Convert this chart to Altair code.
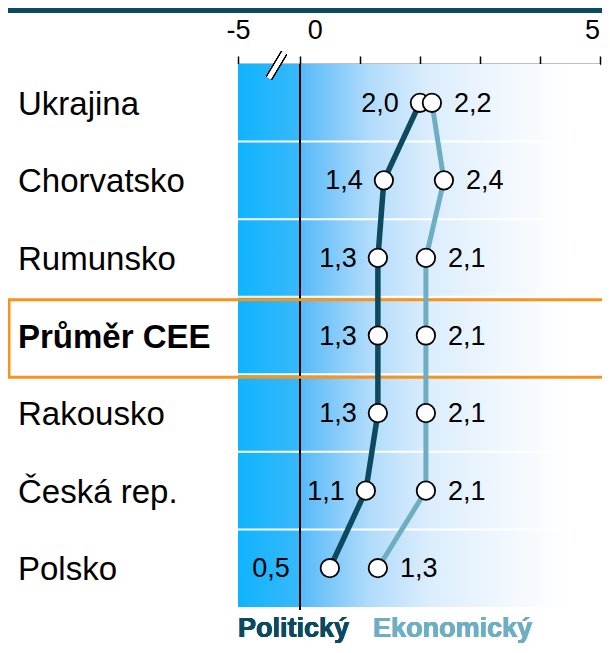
import altair as alt
import pandas as pd

countries = ["Ukrajina", "Chorvatsko", "Rumunsko", "Průměr CEE", "Rakousko", "Česká rep.", "Polsko"]
political = [2.0, 1.4, 1.3, 1.3, 1.3, 1.1, 0.5]
economic = [2.2, 2.4, 2.1, 2.1, 2.1, 2.1, 1.3]
series_names = ["Politický", "Ekonomický"]
axis_values = [-1.03, 0, 1, 2, 3, 4, 5]   # -1.03 stands for the broken "-5" position
highlight = "Průměr CEE"

DARK = "#0d4a60"
LIGHT = "#6eaec3"
ORANGE = "#f7941d"
FONT = "Liberation Sans, Arial, sans-serif"
W, H = 362, 543

rows = []
for i, c in enumerate(countries):
    rows.append({"country": c, "idx": i, "series": "P", "value": political[i],
                 "label": f"{political[i]:.1f}".replace(".", ",")})
    rows.append({"country": c, "idx": i, "series": "E", "value": economic[i],
                 "label": f"{economic[i]:.1f}".replace(".", ",")})
df = pd.DataFrame(rows)
bg = pd.DataFrame({"country": countries, "a": [axis_values[0]] * 7, "b": [0] * 7, "c": [5] * 7})

xscale = alt.Scale(domain=[axis_values[0], 5], nice=False, zero=False)
yscale = alt.Scale(domain=countries, paddingInner=0, paddingOuter=0)

xax = alt.Axis(orient="top", values=axis_values,
               labelExpr="datum.value < -1 ? '-5' : (datum.value == 0 ? '0' : (datum.value == 5 ? '5' : ''))",
               domainColor="black", domainWidth=1.5, tickColor="black", tickWidth=1.5, tickSize=8,
               labelFont=FONT, labelFontSize=27, labelColor="black", labelBaseline="alphabetic",
               labelPadding=18,
               labelOffset={"condition": [{"test": "datum.value == 0", "value": 15},
                                          {"test": "datum.value == 5", "value": -8}], "value": 0},
               grid=False, title=None, labelFlush=False, labelOverlap=False, labelBound=False)

Y = alt.Y("country:N", sort=countries, scale=yscale, axis=None)

left_bg = alt.Chart(bg).mark_rect(
    color=alt.Gradient(gradient="linear", x1=0, x2=1, y1=0, y2=0,
                       stops=[alt.GradientStop(offset=0, color="#0fb4fe"),
                              alt.GradientStop(offset=1, color="#38b8fa")])
).encode(x=alt.X("a:Q", scale=xscale, axis=xax), x2="b:Q", y=Y)

right_bg = alt.Chart(bg).mark_rect(
    color=alt.Gradient(gradient="linear", x1=0, x2=1, y1=0, y2=0,
                       stops=[alt.GradientStop(offset=0, color="#55b9f9"),
                              alt.GradientStop(offset=0.23, color="#b0dbfb"),
                              alt.GradientStop(offset=0.43, color="#dbedfd"),
                              alt.GradientStop(offset=0.67, color="#f0f7fe"),
                              alt.GradientStop(offset=0.9, color="#ffffff")])
).encode(x=alt.X("b:Q", scale=xscale), x2="c:Q", y=Y)

seps = alt.Chart(bg).transform_filter(f"datum.country != '{countries[0]}'").mark_rule(
    color="white", strokeWidth=2
).encode(x=alt.X("a:Q", scale=xscale), x2="c:Q",
         y=alt.Y("country:N", sort=countries, scale=yscale, axis=None, bandPosition=0))

zero = alt.Chart(bg).mark_rule(color="black", strokeWidth=1.5).encode(
    x=alt.X("b:Q", scale=xscale), y=alt.value(0), y2=alt.value(H + 3))

box = alt.Chart(bg).transform_filter(f"datum.country === '{highlight}'").mark_rect(
    fill=None, stroke=ORANGE, strokeWidth=3, yOffset=3
).encode(x=alt.value(-229), x2=alt.value(W + 20), y=Y)

names = alt.Chart(bg).transform_filter(f"datum.country !== '{highlight}'").mark_text(
    align="left", baseline="middle", font=FONT, fontSize=33, color="black", dy=2
).encode(x=alt.value(-220), y=Y, text="country:N")
names_b = alt.Chart(bg).transform_filter(f"datum.country === '{highlight}'").mark_text(
    align="left", baseline="middle", font=FONT, fontSize=33, fontWeight="bold", color="black", dy=2
).encode(x=alt.value(-220), y=Y, text="country:N")

lineP = alt.Chart(df).transform_filter("datum.series === 'P'").mark_line(
    color=DARK, strokeWidth=5.5).encode(x=alt.X("value:Q", scale=xscale), y=Y, order="idx:Q")
lineE = alt.Chart(df).transform_filter("datum.series === 'E'").mark_line(
    color=LIGHT, strokeWidth=5).encode(x=alt.X("value:Q", scale=xscale), y=Y, order="idx:Q")

pts = alt.Chart(df).mark_point(filled=True, fill="white", stroke="black", strokeWidth=1.8,
                               size=340, opacity=1).encode(
    x=alt.X("value:Q", scale=xscale), y=Y)

labP = alt.Chart(df).transform_filter("datum.series === 'P' && datum.country !== 'Polsko'").mark_text(
    align="right", baseline="middle", dx=-21, dy=1, font=FONT, fontSize=27, color="black").encode(
    x=alt.X("value:Q", scale=xscale), y=Y, text="label:N")
labP2 = alt.Chart(df).transform_filter("datum.series === 'P' && datum.country === 'Polsko'").mark_text(
    align="right", baseline="middle", dx=-40, dy=1, font=FONT, fontSize=27, color="black").encode(
    x=alt.X("value:Q", scale=xscale), y=Y, text="label:N")
labE = alt.Chart(df).transform_filter("datum.series === 'E'").mark_text(
    align="left", baseline="middle", dx=22, dy=1, font=FONT, fontSize=27, color="black").encode(
    x=alt.X("value:Q", scale=xscale), y=Y, text="label:N")

topline = alt.Chart(bg).mark_rule(color=DARK, strokeWidth=6).encode(
    x=alt.value(-232), x2=alt.value(W + 12), y=alt.value(-54))

brk_black = alt.Chart(bg).mark_rule(color="black", strokeWidth=7).encode(
    x=alt.value(46), x2=alt.value(31), y=alt.value(-11), y2=alt.value(14))
brk_white = alt.Chart(bg).mark_rule(color="white", strokeWidth=4).encode(
    x=alt.value(46), x2=alt.value(31), y=alt.value(-11), y2=alt.value(14))

legP = alt.Chart(bg).mark_text(align="left", baseline="alphabetic", font=FONT,
                               fontSize=27, fontWeight="bold", color=DARK).encode(
    x=alt.value(0), y=alt.value(573), text=alt.value(series_names[0]))
legE = alt.Chart(bg).mark_text(align="left", baseline="alphabetic", font=FONT,
                               fontSize=27, fontWeight="bold", color=LIGHT).encode(
    x=alt.value(135), y=alt.value(573), text=alt.value(series_names[1]))

chart = alt.layer(
    left_bg, right_bg, seps, zero, box, names, names_b, lineP, lineE, pts, labP, labP2, labE,
    topline, brk_black, brk_white, legP, legE
).properties(
    width=W, height=H,
    padding={"left": 230, "top": 56, "right": 2, "bottom": 38},
    autosize=alt.AutoSizeParams(type="none")
).configure_view(stroke=None)

chart.save("out.html", embed_options={"renderer": "svg", "actions": False})
